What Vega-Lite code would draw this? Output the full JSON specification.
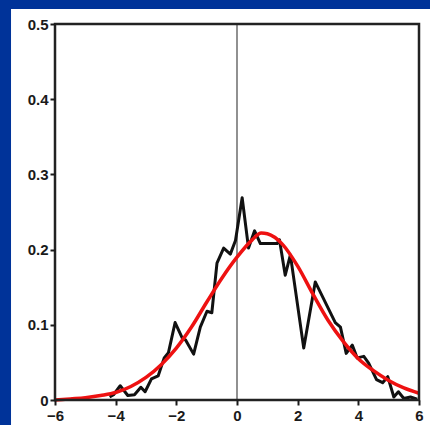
{
  "$schema": "https://vega.github.io/schema/vega-lite/v6.json",
  "width": 364,
  "height": 376,
  "autosize": {"type": "none"},
  "padding": {"left": 55, "top": 24, "right": 11, "bottom": 25},
  "background": "#003399",
  "config": {
    "view": {"stroke": null},
    "axis": {"labelFontSize": 15, "labelFont": "Liberation Sans", "labelFontWeight": "bold"}
  },
  "datasets": {
    "observed": [
      {"x": -4.2, "y": 0.004},
      {"x": -4.07, "y": 0.007},
      {"x": -3.85, "y": 0.019},
      {"x": -3.6, "y": 0.006},
      {"x": -3.38, "y": 0.007},
      {"x": -3.17, "y": 0.017},
      {"x": -3.03, "y": 0.011},
      {"x": -2.82, "y": 0.028},
      {"x": -2.6, "y": 0.032},
      {"x": -2.4, "y": 0.056},
      {"x": -2.26, "y": 0.063},
      {"x": -2.04, "y": 0.103},
      {"x": -1.8, "y": 0.082},
      {"x": -1.7, "y": 0.08},
      {"x": -1.43, "y": 0.061},
      {"x": -1.21, "y": 0.097},
      {"x": -0.99, "y": 0.118},
      {"x": -0.83, "y": 0.116},
      {"x": -0.66, "y": 0.182},
      {"x": -0.44, "y": 0.202},
      {"x": -0.22, "y": 0.194},
      {"x": -0.05, "y": 0.212},
      {"x": 0.17, "y": 0.269},
      {"x": 0.38, "y": 0.202},
      {"x": 0.58, "y": 0.225},
      {"x": 0.77, "y": 0.208},
      {"x": 1.32, "y": 0.208},
      {"x": 1.4, "y": 0.213},
      {"x": 1.59, "y": 0.166},
      {"x": 1.76, "y": 0.193},
      {"x": 2.2, "y": 0.069},
      {"x": 2.58, "y": 0.157},
      {"x": 3.24, "y": 0.103},
      {"x": 3.41, "y": 0.097},
      {"x": 3.6, "y": 0.062},
      {"x": 3.8, "y": 0.073},
      {"x": 3.96, "y": 0.056},
      {"x": 4.18, "y": 0.058},
      {"x": 4.34, "y": 0.049},
      {"x": 4.6, "y": 0.027},
      {"x": 4.8, "y": 0.023},
      {"x": 4.97, "y": 0.031},
      {"x": 5.17, "y": 0.004},
      {"x": 5.32, "y": 0.011},
      {"x": 5.5, "y": 0.002},
      {"x": 5.72, "y": 0.004},
      {"x": 5.94, "y": 0.001}
    ],
    "fit": [
      {"x": -6, "y": 0.0},
      {"x": -5.5, "y": 0.0015},
      {"x": -5, "y": 0.003},
      {"x": -4.5, "y": 0.006},
      {"x": -4, "y": 0.01},
      {"x": -3.5, "y": 0.018},
      {"x": -3, "y": 0.03},
      {"x": -2.5, "y": 0.047},
      {"x": -2, "y": 0.069},
      {"x": -1.5, "y": 0.097},
      {"x": -1, "y": 0.13},
      {"x": -0.5, "y": 0.162},
      {"x": 0, "y": 0.19},
      {"x": 0.5, "y": 0.213},
      {"x": 0.8, "y": 0.222},
      {"x": 1, "y": 0.221},
      {"x": 1.5, "y": 0.207},
      {"x": 2, "y": 0.178},
      {"x": 2.5, "y": 0.141},
      {"x": 3, "y": 0.106},
      {"x": 3.5, "y": 0.078},
      {"x": 4, "y": 0.055},
      {"x": 4.5, "y": 0.039},
      {"x": 5, "y": 0.026},
      {"x": 5.5, "y": 0.016},
      {"x": 6, "y": 0.009}
    ]
  },
  "layer": [
    {
      "data": {"values": [{}]},
      "mark": {"type": "rect", "color": "white"},
      "encoding": {
        "x": {"datum": -7.45, "type": "quantitative", "scale": {"domain": [-6, 6], "nice": false, "zero": false}, "axis": {"values": [-6, -4, -2, 0, 2, 4, 6], "title": null, "zindex": 1, "grid": false, "domain": false, "tickSize": 5, "tickWidth": 2, "tickColor": "#1a1a1a", "labelFont": "Liberation Sans", "labelFontWeight": "bold", "labelFontSize": {"expr": "15"}, "labelColor": "#1a1a1a", "labelPadding": 3, "labelFlush": false, "labelOverlap": false}},
        "x2": {"datum": 6.6},
        "y": {"datum": -0.04, "type": "quantitative", "scale": {"domain": [0, 0.5], "nice": false, "zero": false}, "axis": {"values": [0, 0.1, 0.2, 0.3, 0.4, 0.5], "title": null, "zindex": 1, "grid": false, "domain": false, "tickSize": 5, "tickWidth": 2, "tickColor": "#1a1a1a", "labelFont": "Liberation Sans", "labelFontWeight": "bold", "labelFontSize": {"expr": "15"}, "labelColor": "#1a1a1a", "labelPadding": 2, "labelFlush": false, "labelOverlap": false, "labelExpr": "datum.value == 0 ? '0' : format(datum.value, '.1f')"}},
        "y2": {"datum": 0.52}
      }
    },
    {
      "data": {"values": [{}]},
      "mark": {"type": "rule", "color": "#555555", "strokeWidth": 1.3},
      "encoding": {
        "x": {"datum": 0, "type": "quantitative"},
        "y": {"datum": 0, "type": "quantitative"},
        "y2": {"datum": 0.5}
      }
    },
    {
      "data": {"name": "observed"},
      "mark": {"type": "line", "color": "#111111", "strokeWidth": 3, "strokeJoin": "round"},
      "encoding": {
        "x": {"field": "x", "type": "quantitative", "title": null},
        "y": {"field": "y", "type": "quantitative", "title": null}
      }
    },
    {
      "data": {"name": "fit"},
      "mark": {"type": "line", "color": "#ee1111", "strokeWidth": 3.5, "interpolate": "monotone"},
      "encoding": {
        "x": {"field": "x", "type": "quantitative", "title": null},
        "y": {"field": "y", "type": "quantitative", "title": null}
      }
    },
    {
      "data": {"values": [{}]},
      "mark": {"type": "rect", "filled": false, "stroke": "#222222", "strokeWidth": 2.5},
      "encoding": {
        "x": {"datum": -6, "type": "quantitative"},
        "x2": {"datum": 6},
        "y": {"datum": 0, "type": "quantitative"},
        "y2": {"datum": 0.5}
      }
    }
  ]
}
